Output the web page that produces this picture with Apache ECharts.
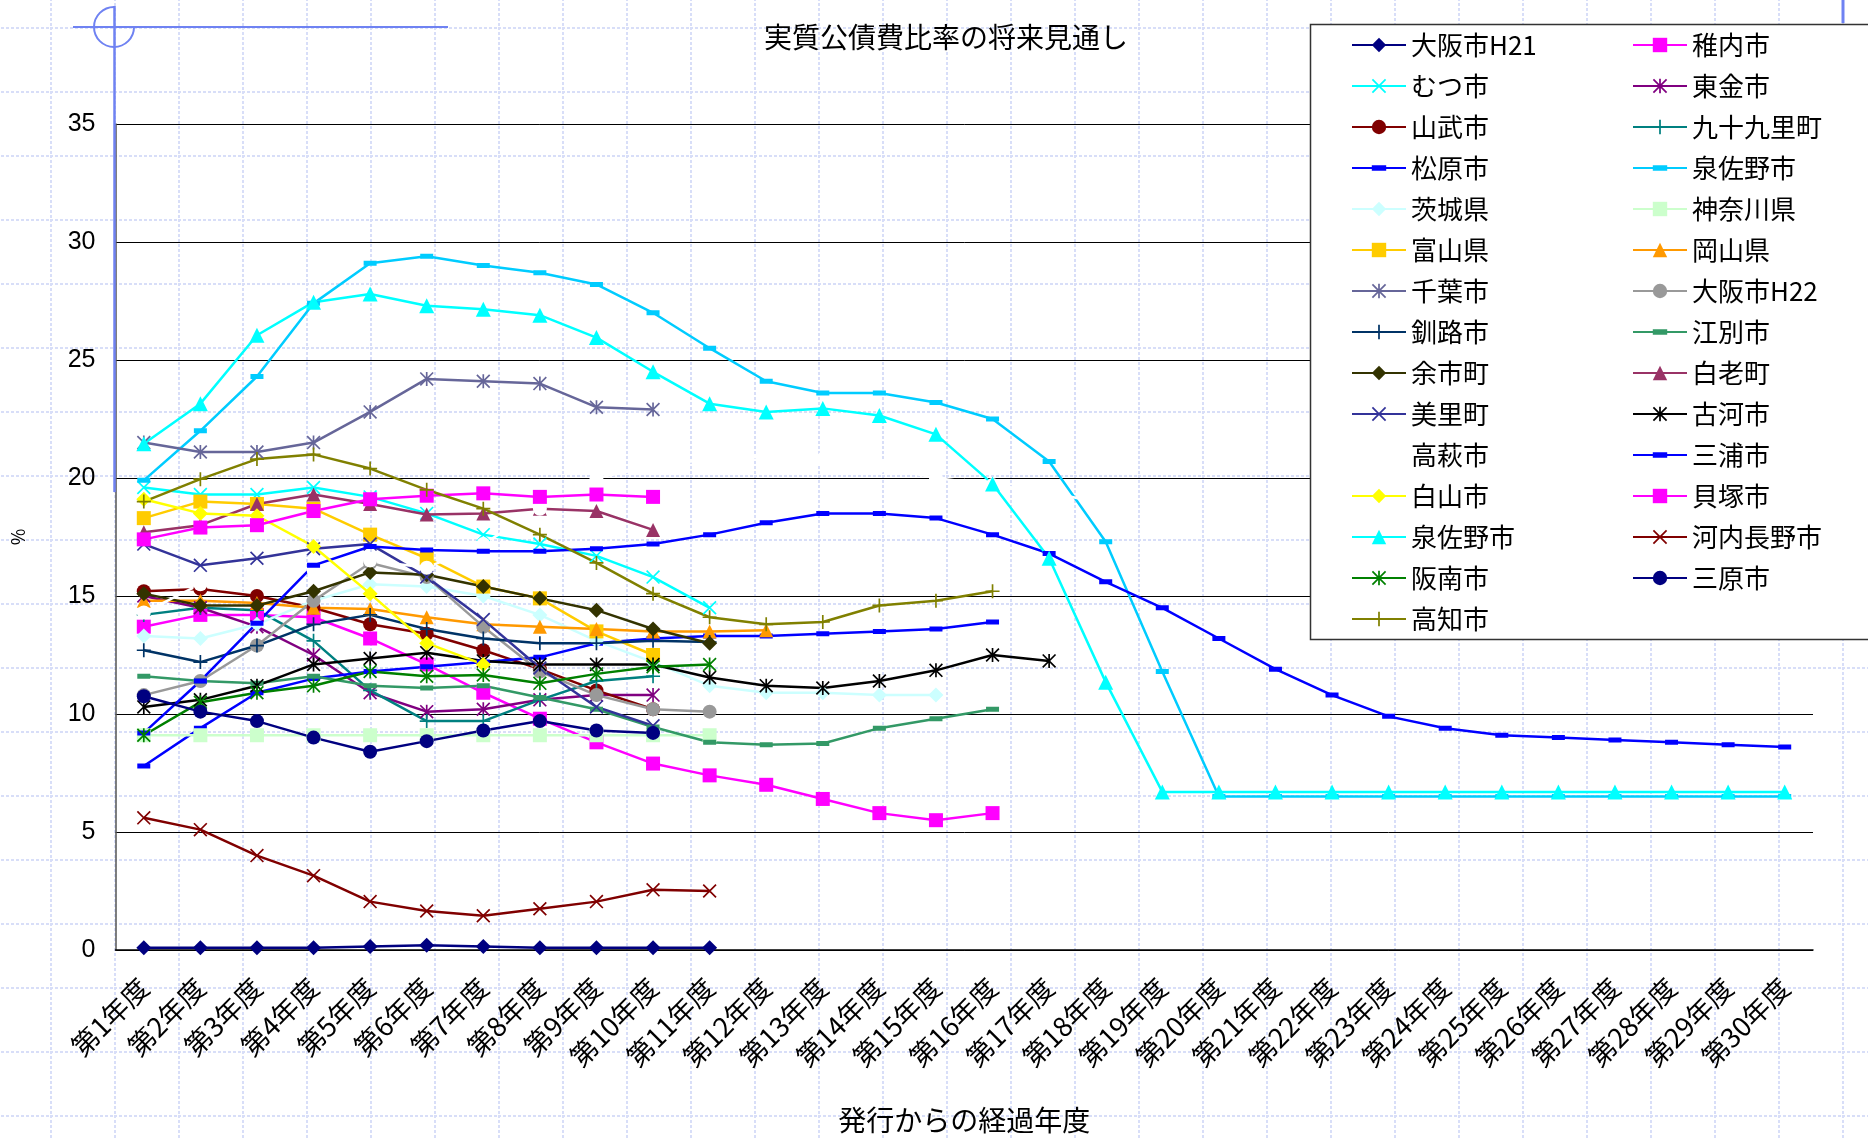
<!DOCTYPE html>
<html>
<head>
<meta charset="utf-8">
<title>実質公債費比率の将来見通し</title>
<script src="https://cdn.jsdelivr.net/npm/echarts@6.0.0/dist/echarts.min.js"></script>
<style>
html, body { margin: 0; padding: 0; background: #fff; }
/* 方眼紙ふうの背景 */
#main {
    width: 1868px; height: 1139px;
    background-image: url("data:image/svg+xml;utf8,<svg xmlns='http://www.w3.org/2000/svg' width='64' height='64'><path d='M1 0V64M0 1H64' stroke='%23d8def8' stroke-width='2' stroke-dasharray='3 2' fill='none'/></svg>");
    background-position: 50px 27px;
}
</style>
</head>
<body>
<div id="main"></div>
<script>
// ---------- データ ----------
var years = ['第1年度', '第2年度', '第3年度', '第4年度', '第5年度', '第6年度', '第7年度', '第8年度', '第9年度', '第10年度',
    '第11年度', '第12年度', '第13年度', '第14年度', '第15年度', '第16年度', '第17年度', '第18年度', '第19年度', '第20年度',
    '第21年度', '第22年度', '第23年度', '第24年度', '第25年度', '第26年度', '第27年度', '第28年度', '第29年度', '第30年度'];

var osakaH21 = [0.1, 0.1, 0.1, 0.1, 0.15, 0.2, 0.15, 0.1, 0.1, 0.1, 0.1];
var wakkanai = [13.7, 14.2, 14.2, 14.1, 13.2, 12.1, 10.9, 9.8, 8.8, 7.9, 7.4, 7.0, 6.4, 5.8, 5.5, 5.8];
var mutsu = [19.6, 19.3, 19.3, 19.6, 19.2, 18.5, 17.6, 17.2, 16.7, 15.8, 14.5];
var togane = [15.0, 14.5, 13.7, 12.5, 10.9, 10.1, 10.2, 10.6, 10.8, 10.8];
var sammu = [15.2, 15.3, 15.0, 14.5, 13.8, 13.4, 12.7, 11.9, 11.0, 10.2];
var kujukuri = [14.2, 14.5, 14.4, 13.1, 11.0, 9.7, 9.7, 10.6, 11.4, 11.6];
var matsubara = [7.8, 9.4, 10.9, 11.5, 11.8, 12.0, 12.2, 12.4, 13.0, 13.2, 13.3, 13.3, 13.4, 13.5, 13.6, 13.9];
var izumisanoA = [19.9, 22.0, 24.3, 27.4, 29.1, 29.4, 29.0, 28.7, 28.2, 27.0, 25.5, 24.1, 23.6, 23.6, 23.2, 22.5, 20.7, 17.3, 11.8, 6.5,
    6.5, 6.5, 6.5, 6.5, 6.5, 6.5, 6.5, 6.5, 6.5, 6.5];
var ibaraki = [13.3, 13.2, 13.8, 14.8, 15.5, 15.4, 15.0, 14.2, 13.1, 12.2, 11.2, 10.9, 10.9, 10.8, 10.8];
var kanagawa = [9.1, 9.1, 9.1, 9.1, 9.1, 9.1, 9.1, 9.1, 9.1, 9.1, 9.1];
var toyama = [18.3, 19.0, 18.9, 18.7, 17.6, 16.6, 15.4, 14.9, 13.5, 12.5];
var okayama = [14.8, 14.8, 14.7, 14.5, 14.45, 14.1, 13.8, 13.7, 13.6, 13.5, 13.5, 13.55];
var chiba = [21.5, 21.1, 21.1, 21.5, 22.8, 24.2, 24.1, 24.0, 23.0, 22.9];
var osakaH22 = [10.8, 11.4, 12.9, 14.8, 16.4, 15.8, 13.7, 11.8, 10.8, 10.2, 10.1];
var kushiro = [12.7, 12.2, 12.9, 13.8, 14.2, 13.6, 13.2, 13.0, 13.0, 13.1, 13.05];
var ebetsu = [11.6, 11.4, 11.3, 11.6, 11.2, 11.1, 11.2, 10.7, 10.2, 9.45, 8.8, 8.7, 8.75, 9.4, 9.8, 10.2];
var yoichi = [15.1, 14.6, 14.6, 15.2, 16.0, 15.9, 15.4, 14.9, 14.4, 13.6, 13.0];
var shiraoi = [17.7, 18.0, 18.9, 19.3, 18.9, 18.45, 18.5, 18.7, 18.6, 17.8];
var misato = [17.2, 16.3, 16.6, 17.0, 17.2, 15.8, 14.0, 11.95, 10.3, 9.5];
var koga = [10.3, 10.6, 11.2, 12.1, 12.35, 12.6, 12.25, 12.1, 12.1, 12.1, 11.55, 11.2, 11.1, 11.4, 11.85, 12.5, 12.25];
var takahagi = [14.3, 15.5, 15.8, 16.1, 16.5, 16.2, 17.2, 18.7, 20.0, 20.5, 20.8, 20.9, 20.8, 20.5, 20.0, 19.7, 19.4, 18.9];
var miura = [9.2, 11.4, 13.85, 16.3, 17.1, 16.95, 16.9, 16.9, 17.0, 17.2, 17.6, 18.1, 18.5, 18.5, 18.3, 17.6, 16.8, 15.6, 14.5, 13.2,
    11.9, 10.8, 9.9, 9.4, 9.1, 9.0, 8.9, 8.8, 8.7, 8.6];
var hakusan = [19.1, 18.5, 18.4, 17.1, 15.1, 13.0, 12.1];
var kaizuka = [17.4, 17.9, 18.0, 18.6, 19.1, 19.25, 19.35, 19.2, 19.3, 19.2];
var izumisanoB = [21.45, 23.15, 26.05, 27.45, 27.8, 27.3, 27.15, 26.9, 25.95, 24.5, 23.15, 22.8, 22.95, 22.65, 21.85, 19.75, 16.6, 11.35, 6.7, 6.7,
    6.7, 6.7, 6.7, 6.7, 6.7, 6.7, 6.7, 6.7, 6.7, 6.7];
var kawachinagano = [5.6, 5.1, 4.0, 3.15, 2.05, 1.65, 1.45, 1.75, 2.05, 2.55, 2.5];
var hannan = [9.1, 10.5, 10.9, 11.2, 11.8, 11.6, 11.65, 11.3, 11.7, 12.0, 12.1];
var mihara = [10.75, 10.1, 9.7, 9.0, 8.4, 8.85, 9.3, 9.7, 9.3, 9.2];
var kochi = [19.0, 19.95, 20.8, 21.0, 20.4, 19.5, 18.7, 17.6, 16.4, 15.1, 14.1, 13.8, 13.9, 14.6, 14.8, 15.2];

// ---------- マーカー (Excel風) ----------
var X_MARK = 'path://M0,1.7L1.7,0L20,18.3L18.3,20ZM18.3,0L20,1.7L1.7,20L0,18.3Z';
var STAR_MARK = 'path://M0,1.7L1.7,0L20,18.3L18.3,20ZM18.3,0L20,1.7L1.7,20L0,18.3ZM8.8,0H11.2V20H8.8Z';
var PLUS_MARK = 'path://M8.8,0H11.2V8.8H20V11.2H11.2V20H8.8V11.2H0V8.8H8.8Z';
// 短い横棒 (上下に面積ゼロの点を置いて正方形の枠にする → 凡例でも横棒のまま)
var DASH_MARK = 'path://M0,-8L0.01,-8ZM0,0H26V10H0ZM0,18L0.01,18Z';

var FONT = "'Noto Sans CJK JP', 'Noto Sans', sans-serif";

function mk(name, data, color, symbol, size) {
    return {
        name: name,
        type: 'line',
        data: data,
        symbol: symbol,
        symbolSize: size,
        showAllSymbol: true,
        lineStyle: { color: color, width: 2.5 },
        itemStyle: { color: color, borderWidth: 0 },
        emphasis: { disabled: true }
    };
}

// 凡例と同じ順番 (左右交互)
var seriesList = [
    mk('大阪市H21', osakaH21, '#000080', 'diamond', 15),
    mk('稚内市', wakkanai, '#FF00FF', 'rect', 14),
    mk('むつ市', mutsu, '#00FFFF', X_MARK, 14),
    mk('東金市', togane, '#800080', STAR_MARK, 14),
    mk('山武市', sammu, '#800000', 'circle', 14),
    mk('九十九里町', kujukuri, '#008080', PLUS_MARK, 14),
    mk('松原市', matsubara, '#0000FF', DASH_MARK, 13),
    mk('泉佐野市', izumisanoA, '#00CCFF', DASH_MARK, 13),
    mk('茨城県', ibaraki, '#CCFFFF', 'diamond', 15),
    mk('神奈川県', kanagawa, '#CCFFCC', 'rect', 14),
    mk('富山県', toyama, '#FFCC00', 'rect', 14),
    mk('岡山県', okayama, '#FF9900', 'triangle', 14),
    mk('千葉市', chiba, '#666699', STAR_MARK, 14),
    mk('大阪市H22', osakaH22, '#999999', 'circle', 14),
    mk('釧路市', kushiro, '#003366', PLUS_MARK, 14),
    mk('江別市', ebetsu, '#339966', DASH_MARK, 13),
    mk('余市町', yoichi, '#333300', 'diamond', 15),
    mk('白老町', shiraoi, '#993366', 'triangle', 14),
    mk('美里町', misato, '#333399', X_MARK, 14),
    mk('古河市', koga, '#000000', STAR_MARK, 14),
    mk('高萩市', takahagi, '#FFFFFF', 'circle', 14),
    mk('三浦市', miura, '#0000FF', DASH_MARK, 13),
    mk('白山市', hakusan, '#FFFF00', 'diamond', 15),
    mk('貝塚市', kaizuka, '#FF00FF', 'rect', 14),
    mk('泉佐野市 ', izumisanoB, '#00FFFF', 'triangle', 15),
    mk('河内長野市', kawachinagano, '#800000', X_MARK, 14),
    mk('阪南市', hannan, '#008000', STAR_MARK, 14),
    mk('三原市', mihara, '#000080', 'circle', 14),
    mk('高知市', kochi, '#808000', PLUS_MARK, 14)
];

var leftNames = [], rightNames = [];
seriesList.forEach(function (s, i) {
    (i % 2 === 0 ? leftNames : rightNames).push(s.name);
});

var legendBase = {
    orient: 'vertical',
    top: 31,
    padding: 0,
    itemWidth: 54,
    itemHeight: 18,
    itemGap: 13,
    selectedMode: false,
    textStyle: { fontSize: 26, lineHeight: 28, color: '#000', fontFamily: FONT }
};

var chart = echarts.init(document.getElementById('main'), null, { width: 1868, height: 1139 });

var option = {
    animation: false,
    backgroundColor: 'transparent',
    textStyle: { fontFamily: FONT },
    grid: { left: 115.5, right: 55, top: 124, bottom: 187, containLabel: false },
    legend: [
        Object.assign({}, legendBase, { left: 1351, data: leftNames }),
        Object.assign({}, legendBase, { left: 1632, data: rightNames })
    ],
    xAxis: {
        type: 'category',
        data: years,
        boundaryGap: true,
        axisLine: { lineStyle: { color: '#000', width: 1.5 } },
        axisTick: { inside: true, length: 8, lineStyle: { color: '#000' } },
        axisLabel: { rotate: 45, interval: 0, margin: 33, fontSize: 27, color: '#000', fontFamily: FONT },
        splitLine: { show: false },
        name: '発行からの経過年度',
        nameLocation: 'middle',
        nameGap: 156,
        nameTextStyle: { fontSize: 28, color: '#000', fontFamily: FONT }
    },
    yAxis: {
        type: 'value',
        min: 0,
        max: 35,
        interval: 5,
        axisLine: { show: true, lineStyle: { color: '#555', width: 1.5 } },
        axisTick: { show: false },
        axisLabel: { fontSize: 25, margin: 20, color: '#000', fontFamily: "'Liberation Sans Narrow', 'Liberation Sans', sans-serif" },
        splitLine: { lineStyle: { color: '#000', width: 1 } },
        name: '%',
        nameLocation: 'middle',
        nameGap: 88,
        nameRotate: 90,
        nameTextStyle: { fontSize: 18, color: '#000' }
    },
    graphic: {
        elements: [
            // タイトル
            {
                type: 'text', x: 946, y: 37, z: 10,
                style: { text: '実質公債費比率の将来見通し', fontSize: 28, fill: '#000', fontFamily: FONT, align: 'center', verticalAlign: 'middle' }
            },
            // 凡例の枠
            {
                type: 'rect', z: 3,
                shape: { x: 1310.5, y: 24.5, width: 580, height: 615 },
                style: { fill: '#fff', stroke: '#333', lineWidth: 1.5 }
            },
            // 青い飾り線
            {
                type: 'arc', z: 20,
                shape: { cx: 114, cy: 27, r: 20, startAngle: 0, endAngle: Math.PI * 1.5, clockwise: true },
                style: { fill: 'none', stroke: '#6f82f2', lineWidth: 2 }
            },
            {
                type: 'line', z: 20,
                shape: { x1: 73, y1: 27, x2: 448, y2: 27 },
                style: { stroke: '#6f82f2', lineWidth: 2 }
            },
            {
                type: 'line', z: 20,
                shape: { x1: 114.5, y1: 6, x2: 114.5, y2: 492 },
                style: { stroke: '#6f82f2', lineWidth: 2.5 }
            },
            {
                type: 'line', z: 20,
                shape: { x1: 1843, y1: 0, x2: 1843, y2: 23 },
                style: { stroke: '#6f82f2', lineWidth: 3 }
            }
        ]
    },
    series: seriesList
};

chart.setOption(option);
</script>
</body>
</html>
